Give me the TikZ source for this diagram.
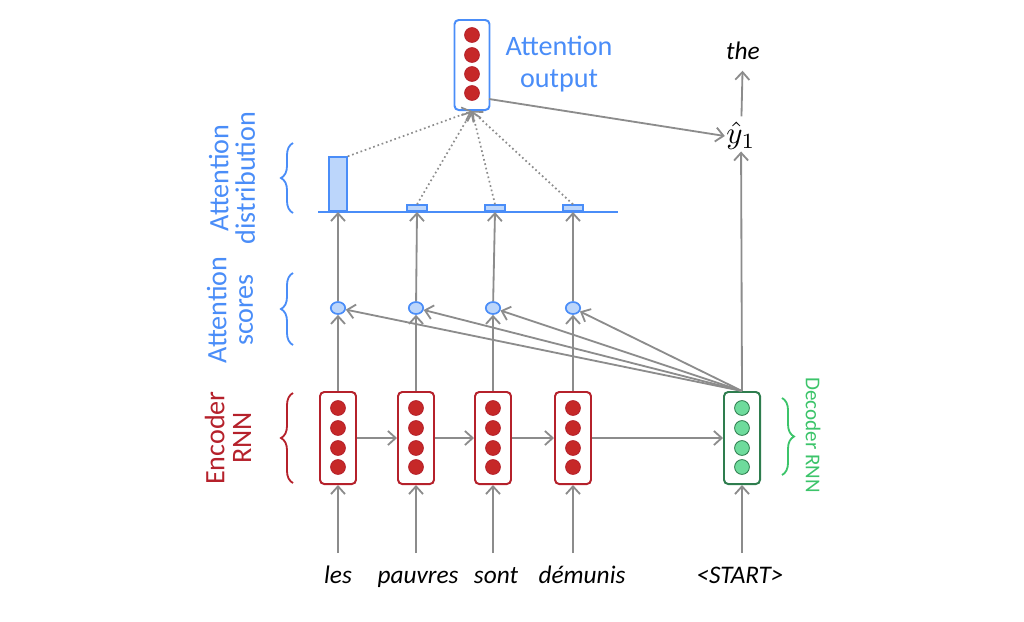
\documentclass[tikz,border=0pt]{standalone}
\usepackage{fontspec}
\setmainfont{Carlito}
\usetikzlibrary{arrows.meta,shapes.geometric,decorations.pathreplacing}
\definecolor{rnnred}{HTML}{B5212B}
\definecolor{dotred}{HTML}{C62828}
\definecolor{attblue}{HTML}{4A8DF8}
\definecolor{barfill}{HTML}{BCD6FB}
\definecolor{decgreen}{HTML}{2E7D4E}
\definecolor{dotgreen}{HTML}{6EDB9C}
\definecolor{labgreen}{HTML}{3CC46A}
\definecolor{arr}{HTML}{8C8C8C}
\tikzset{
  encbox/.style={draw=rnnred, line width=1.4pt, rounded corners=3pt, minimum width=0.9cm, minimum height=2.3cm, inner sep=0pt},
  decbox/.style={draw=decgreen, line width=1.4pt, rounded corners=3pt, minimum width=0.9cm, minimum height=2.3cm, inner sep=0pt},
  aobox/.style={draw=attblue, line width=1.4pt, rounded corners=3pt, minimum width=0.875cm, minimum height=2.25cm, inner sep=0pt},
  reddot/.style={circle, draw=rnnred, fill=dotred, line width=0.6pt, minimum size=0.37cm, inner sep=0pt},
  greendot/.style={circle, draw=decgreen, fill=dotgreen, line width=0.6pt, minimum size=0.37cm, inner sep=0pt},
  score/.style={ellipse, draw=attblue, fill=barfill, line width=1.2pt, minimum width=0.36cm, minimum height=0.3cm, inner sep=0pt},
  bigbar/.style={draw=attblue, fill=barfill, line width=1.2pt, minimum width=0.45cm, minimum height=1.35cm, inner sep=0pt, anchor=south},
  smallbar/.style={draw=attblue, fill=barfill, line width=1.2pt, minimum width=0.5cm, minimum height=0.15cm, inner sep=0pt, anchor=south},
  arrow/.style={draw=arr, line width=1.3pt, -{Straight Barb[length=5.5pt,width=10pt]}},
  dotarrow/.style={draw=arr, line width=1.2pt, dotted, -{Straight Barb[length=5.5pt,width=10pt]}},
  word/.style={font=\fontsize{18}{21}\selectfont\itshape, inner sep=1pt, anchor=base},
  bluelab/.style={text=attblue, font=\fontsize{20}{19}\selectfont, align=center, rotate=90},
  bracestyle/.style={decorate, decoration={brace, amplitude=0.3cm}, line width=1.3pt}
}
\begin{document}
\begin{tikzpicture}[x=0.025cm, y=-0.025cm]
\useasboundingbox (0,0) rectangle (1024,621);
% encoder
\foreach \n/\x in {1/338,2/416,3/493,4/573} {
  \node[encbox] (e\n) at (\x,438) {};
  \foreach \k/\y in {1/408,2/428,3/448,4/467}
    \node[reddot] (e\n d\k) at (\x,\y) {};
  \coordinate (in\n) at (\x,553);
  \node[score] (s\n) at (\x,308) {};
  \draw[arrow] (in\n) -- (e\n);
  \draw[arrow] (e\n) -- (s\n);
}
% decoder
\node[decbox] (dec) at (742,438) {};
\foreach \k/\y in {1/408,2/428,3/448,4/467}
  \node[greendot] (dd\k) at (742,\y) {};
\coordinate (in5) at (742,553);
\draw[arrow] (in5) -- (dec);
% words
\node[word] (w1) at (338,583) {les};
\node[word] (w2) at (418,583) {pauvres};
\node[word] (w3) at (496,583) {sont};
\node[word] (w4) at (582,583) {démunis};
\node[word] (w5) at (740,583) {<START>};
% recurrent arrows
\draw[arrow] (e1) -- (e2);
\draw[arrow] (e2) -- (e3);
\draw[arrow] (e3) -- (e4);
\draw[arrow] (e4) -- (dec);
% decoder to scores
\foreach \n in {1,...,4} \draw[arrow] (dec.north) -- (s\n);
% distribution
\draw[attblue, line width=1.4pt] (318,212) -- (618,212);
\node[bigbar] (b1) at (338,212) {};
\node[smallbar] (b2) at (417,212) {};
\node[smallbar] (b3) at (495,212) {};
\node[smallbar] (b4) at (573,212) {};
\foreach \n in {1,...,4} \draw[arrow] (s\n) -- (b\n.south);
% attention output
\node[aobox] (ao) at (472,65) {};
\foreach \k/\y in {1/35,2/55,3/74,4/93}
  \node[reddot] (ad\k) at (472,\y) {};
\node[text=attblue, font=\fontsize{20}{23}\selectfont, align=center] (aol) at (559,64) {Attention\\output};
\draw[dotarrow] (b1.north east) -- (ao.south);
\foreach \n in {2,3,4} \draw[dotarrow] (b\n.north) -- (ao.south);
% output
\node[inner sep=1pt] (yh) at (741,136) {\scalebox{2.2}{$\hat{y}_1$}};
\node[word] (the) at (743,59) {the};
\coordinate (aoout) at (489,99);
\draw[arrow] (aoout) -- (yh.west);
\draw[arrow] (dec.north) -- (yh);
\draw[arrow, shorten >=7pt, shorten <=3pt] (yh) -- (the);
% left braces and labels
\draw[bracestyle, draw=attblue] (293,213) -- (293,143);
\draw[bracestyle, draw=attblue] (293,345) -- (293,273);
\draw[bracestyle, draw=rnnred] (293,483) -- (293,393);
\node[bluelab] (ld) at (232,178) {Attention\\distribution};
\node[bluelab] (ls) at (230,310) {Attention\\scores};
\node[bluelab, text=rnnred] (le) at (228,438) {Encoder\\RNN};
% decoder label
\draw[bracestyle, draw=labgreen] (782,398) -- (782,475);
\node[text=labgreen, font=\fontsize{15}{18}\selectfont, rotate=-90] (ldec) at (813,435) {Decoder RNN};
\end{tikzpicture}
\end{document}
